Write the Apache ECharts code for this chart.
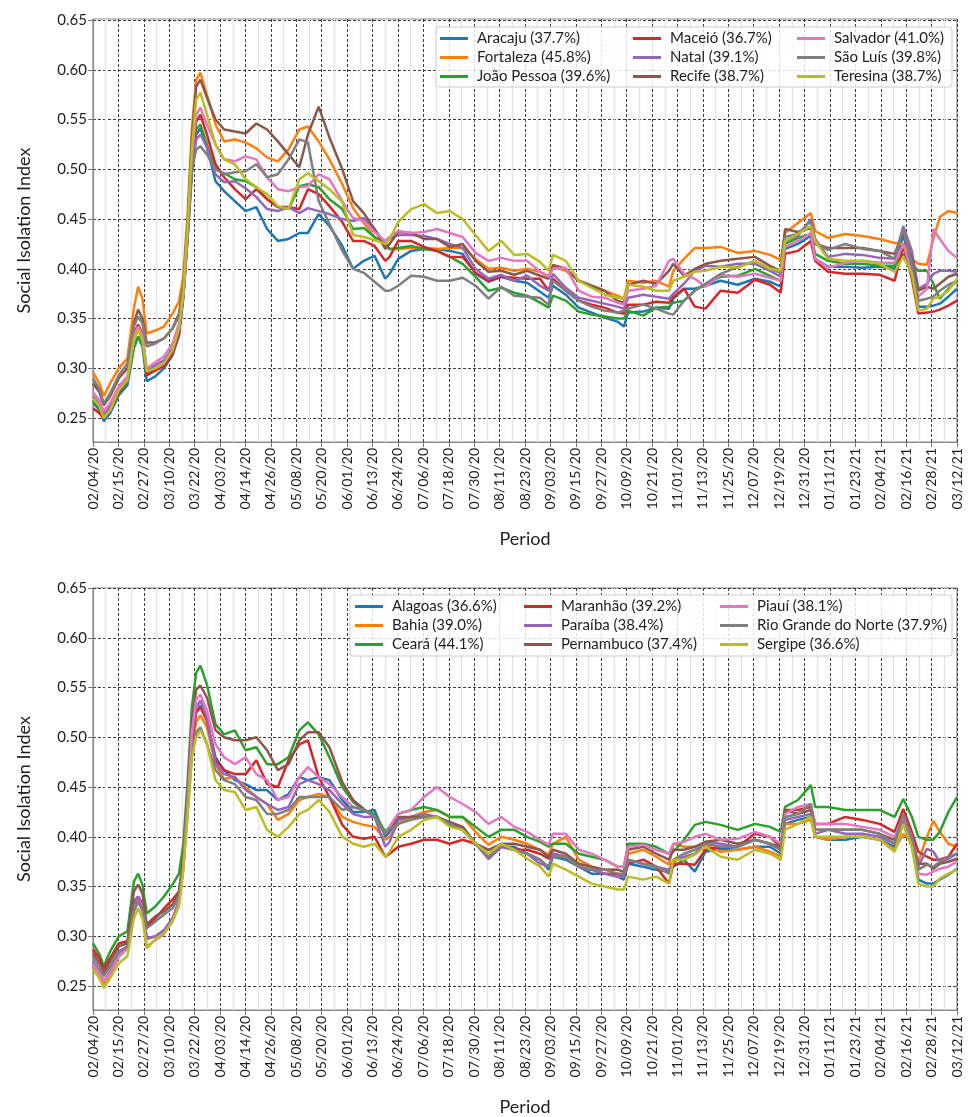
<!DOCTYPE html>
<html>
<head>
<meta charset="utf-8">
<script src="https://cdn.jsdelivr.net/npm/echarts@6/dist/echarts.min.js"></script>
<style>
  html, body { margin: 0; padding: 0; background: #ffffff; }
  #chart { width: 976px; height: 1117px; }
</style>
</head>
<body>
<div id="chart"></div>
<script>
// Day offsets (days since 02/04/2020) at which each series is sampled
const DAYS = [0,3,5,8,12,16,19,21,23,25,29,33,37,40,42,44,46,48,50,53,57,61,66,71,76,81,86,91,96,100,105,110,116,121,126,131,136,138,142,148,154,160,166,172,178,184,190,196,202,208,212,214,220,226,232,238,244,247,249,256,262,268,270,275,280,285,292,300,308,315,320,322,328,334,336,342,350,358,366,373,377,381,384,388,391,394,398,402];

// Date labels placed at evenly spaced ticks along the period
const TICK_LABELS = ['02/04/20','02/15/20','02/27/20','03/10/20','03/22/20','04/03/20','04/14/20','04/26/20','05/08/20','05/20/20','06/01/20','06/13/20','06/24/20','07/06/20','07/18/20','07/30/20','08/11/20','08/23/20','09/03/20','09/15/20','09/27/20','10/09/20','10/21/20','11/01/20','11/13/20','11/25/20','12/07/20','12/19/20','12/31/20','01/11/21','01/23/21','02/04/21','02/16/21','02/28/21','03/12/21'];
const Y_TICKS = [0.25, 0.30, 0.35, 0.40, 0.45, 0.50, 0.55, 0.60, 0.65];

// Capitals (upper panel)
const CAPITALS = ['Aracaju (37.7%)','Fortaleza (45.8%)','João Pessoa (39.6%)','Maceió (36.7%)','Natal (39.1%)','Recife (38.7%)','Salvador (41.0%)','São Luís (39.8%)','Teresina (38.7%)'];
const ARACAJU = [.266,.258,.247,.255,.273,.283,.320,.332,.322,.287,.292,.300,.313,.333,.370,.430,.495,.535,.541,.522,.488,.478,.468,.458,.462,.440,.428,.430,.436,.436,.455,.443,.423,.400,.408,.413,.390,.395,.410,.418,.420,.420,.418,.415,.395,.387,.392,.388,.386,.377,.371,.383,.374,.361,.356,.351,.347,.342,.356,.357,.361,.360,.370,.380,.380,.383,.388,.384,.390,.387,.382,.420,.425,.433,.410,.402,.402,.401,.402,.400,.435,.395,.362,.362,.363,.365,.372,.380];
const FORTALEZA = [.296,.285,.272,.285,.300,.310,.360,.382,.370,.335,.338,.342,.355,.367,.392,.455,.540,.590,.597,.575,.545,.528,.530,.527,.521,.512,.508,.520,.540,.543,.528,.510,.485,.461,.446,.432,.423,.420,.420,.421,.421,.420,.421,.421,.410,.400,.401,.398,.400,.397,.393,.402,.398,.388,.383,.378,.373,.370,.388,.386,.388,.382,.398,.410,.421,.421,.422,.416,.418,.414,.409,.436,.446,.456,.438,.431,.435,.433,.430,.426,.425,.410,.405,.404,.430,.452,.458,.456];
const JOAO_PESSOA = [.268,.260,.250,.258,.275,.286,.322,.332,.325,.295,.298,.303,.317,.338,.374,.435,.505,.540,.545,.525,.500,.496,.490,.488,.482,.470,.462,.460,.483,.485,.482,.470,.460,.440,.441,.432,.425,.420,.421,.423,.420,.418,.412,.405,.392,.378,.381,.376,.373,.366,.361,.373,.368,.357,.354,.352,.350,.350,.358,.353,.361,.362,.366,.368,.378,.385,.392,.393,.400,.393,.388,.425,.431,.435,.415,.408,.405,.405,.403,.403,.415,.405,.398,.398,.385,.370,.380,.388];
const MACEIO = [.260,.255,.250,.258,.276,.288,.335,.344,.335,.293,.298,.302,.315,.335,.372,.434,.505,.548,.555,.535,.505,.492,.480,.470,.480,.470,.462,.462,.460,.480,.475,.463,.447,.428,.428,.423,.408,.412,.428,.428,.422,.418,.412,.412,.396,.388,.392,.391,.390,.390,.378,.390,.378,.368,.364,.361,.356,.355,.364,.364,.367,.366,.372,.380,.362,.360,.378,.376,.389,.384,.376,.415,.418,.428,.408,.397,.395,.395,.394,.388,.423,.390,.355,.356,.357,.359,.363,.368];
const NATAL = [.272,.264,.254,.262,.280,.290,.330,.340,.330,.298,.303,.308,.320,.340,.372,.430,.500,.530,.535,.522,.495,.487,.488,.481,.472,.460,.458,.462,.456,.461,.458,.455,.450,.448,.451,.440,.425,.430,.434,.434,.433,.430,.425,.421,.400,.390,.394,.388,.393,.383,.378,.395,.381,.371,.368,.365,.362,.360,.371,.374,.372,.370,.375,.385,.398,.403,.402,.405,.405,.398,.392,.428,.433,.450,.430,.412,.415,.414,.411,.410,.443,.418,.380,.385,.395,.398,.398,.397];
const RECIFE = [.285,.276,.263,.272,.290,.300,.345,.359,.350,.326,.326,.330,.340,.355,.383,.445,.530,.583,.590,.572,.550,.540,.538,.536,.546,.540,.528,.515,.502,.535,.563,.532,.500,.468,.456,.440,.420,.425,.437,.436,.430,.430,.422,.425,.408,.397,.398,.394,.398,.393,.390,.404,.400,.388,.383,.378,.368,.366,.384,.388,.385,.398,.405,.393,.400,.405,.408,.410,.412,.403,.398,.440,.437,.441,.425,.421,.421,.421,.418,.415,.437,.410,.378,.382,.380,.385,.392,.395];
const SALVADOR = [.276,.268,.257,.265,.282,.292,.333,.342,.333,.300,.306,.312,.325,.345,.375,.437,.515,.555,.562,.545,.525,.510,.508,.513,.510,.492,.480,.478,.482,.483,.495,.490,.468,.451,.448,.437,.428,.432,.438,.436,.437,.440,.436,.432,.416,.408,.411,.408,.408,.397,.392,.400,.401,.378,.372,.371,.366,.364,.378,.380,.383,.408,.410,.395,.390,.382,.394,.392,.395,.391,.388,.422,.428,.436,.410,.401,.406,.408,.406,.406,.425,.395,.372,.380,.440,.430,.418,.411];
const SAO_LUIS = [.290,.279,.265,.275,.293,.305,.342,.352,.345,.322,.325,.330,.340,.352,.380,.438,.500,.520,.523,.515,.500,.495,.497,.498,.505,.492,.495,.510,.530,.527,.468,.445,.418,.400,.396,.387,.378,.378,.383,.393,.392,.388,.388,.391,.383,.370,.382,.373,.372,.371,.364,.388,.378,.368,.362,.358,.356,.358,.360,.364,.360,.355,.354,.368,.378,.385,.395,.402,.408,.400,.396,.432,.435,.448,.425,.419,.425,.420,.418,.410,.440,.405,.368,.370,.372,.378,.384,.388];
const TERESINA = [.270,.262,.250,.258,.278,.288,.328,.339,.328,.297,.300,.305,.318,.340,.376,.440,.520,.570,.577,.555,.525,.510,.505,.490,.482,.475,.463,.460,.490,.496,.488,.480,.467,.434,.432,.429,.425,.430,.447,.460,.465,.456,.458,.450,.434,.418,.428,.414,.415,.407,.398,.414,.408,.388,.381,.374,.371,.370,.384,.382,.378,.378,.388,.392,.397,.398,.402,.401,.408,.400,.398,.428,.435,.443,.428,.410,.408,.408,.405,.397,.412,.395,.358,.360,.370,.372,.378,.390];

// States (lower panel)
const STATES = ['Alagoas (36.6%)','Bahia (39.0%)','Ceará (44.1%)','Maranhão (39.2%)','Paraíba (38.4%)','Pernambuco (37.4%)','Piauí (38.1%)','Rio Grande do Norte (37.9%)','Sergipe (36.6%)'];
const ALAGOAS = [.272,.263,.253,.262,.280,.288,.330,.340,.330,.298,.300,.305,.318,.335,.370,.428,.495,.525,.532,.517,.480,.467,.457,.453,.447,.447,.437,.443,.460,.457,.460,.457,.437,.425,.425,.427,.400,.405,.417,.420,.420,.420,.413,.407,.393,.387,.390,.390,.383,.377,.367,.380,.377,.370,.363,.363,.360,.357,.373,.370,.367,.365,.370,.377,.365,.385,.388,.387,.390,.390,.383,.413,.417,.420,.400,.397,.397,.400,.397,.390,.413,.390,.357,.353,.353,.357,.362,.368];
const BAHIA = [.270,.262,.252,.262,.280,.288,.330,.338,.330,.297,.300,.306,.318,.335,.368,.425,.490,.515,.522,.510,.473,.458,.460,.450,.440,.433,.417,.423,.437,.440,.443,.440,.420,.415,.412,.410,.397,.400,.413,.420,.425,.427,.420,.420,.405,.392,.400,.397,.393,.387,.382,.393,.400,.377,.370,.367,.367,.365,.383,.387,.380,.372,.393,.390,.390,.392,.385,.387,.390,.385,.380,.413,.413,.417,.400,.397,.400,.400,.397,.387,.403,.395,.375,.400,.416,.405,.393,.390];
const CEARA = [.293,.282,.270,.285,.300,.305,.355,.363,.352,.323,.330,.340,.352,.363,.392,.455,.530,.565,.572,.553,.513,.503,.507,.487,.490,.473,.473,.480,.507,.515,.503,.480,.450,.435,.427,.423,.405,.410,.423,.427,.430,.427,.420,.420,.410,.400,.407,.407,.400,.395,.390,.393,.393,.383,.380,.377,.370,.370,.393,.393,.390,.383,.385,.397,.412,.415,.412,.407,.413,.410,.405,.430,.437,.452,.430,.430,.427,.427,.427,.420,.438,.420,.400,.397,.397,.405,.425,.440];
const MARANHAO = [.287,.278,.267,.278,.293,.295,.335,.340,.333,.310,.318,.328,.337,.345,.375,.430,.495,.525,.530,.517,.477,.467,.463,.463,.477,.453,.450,.477,.493,.497,.460,.440,.412,.400,.398,.400,.380,.383,.390,.393,.397,.397,.393,.397,.393,.378,.390,.387,.387,.383,.378,.383,.380,.370,.367,.363,.363,.360,.373,.377,.370,.353,.373,.373,.372,.387,.390,.390,.403,.400,.390,.427,.427,.430,.413,.413,.420,.417,.413,.405,.428,.405,.385,.380,.377,.377,.380,.393];
const PARAIBA = [.275,.265,.255,.265,.282,.290,.332,.340,.332,.298,.300,.306,.318,.335,.370,.430,.500,.530,.537,.520,.473,.463,.460,.447,.440,.433,.427,.430,.453,.457,.453,.447,.433,.423,.420,.420,.390,.395,.417,.420,.423,.420,.413,.410,.393,.378,.390,.387,.383,.373,.370,.383,.380,.370,.367,.363,.360,.360,.377,.373,.370,.367,.375,.380,.383,.395,.393,.390,.397,.393,.387,.417,.420,.423,.403,.407,.403,.403,.400,.393,.417,.395,.370,.388,.385,.375,.378,.383];
const PERNAMBUCO = [.283,.273,.263,.275,.290,.293,.345,.352,.343,.312,.320,.325,.332,.345,.380,.440,.515,.548,.552,.540,.507,.500,.497,.497,.500,.487,.467,.473,.497,.505,.505,.490,.455,.437,.428,.420,.403,.408,.420,.420,.420,.420,.415,.410,.393,.387,.393,.393,.390,.387,.380,.387,.383,.373,.370,.367,.367,.365,.387,.390,.383,.377,.387,.387,.390,.395,.397,.393,.397,.393,.390,.427,.423,.427,.407,.407,.407,.407,.403,.397,.420,.400,.373,.373,.368,.373,.375,.378];
const PIAUI = [.272,.263,.255,.263,.280,.288,.325,.335,.325,.290,.296,.302,.315,.333,.372,.435,.505,.538,.543,.527,.493,.480,.473,.480,.463,.457,.437,.440,.460,.470,.460,.453,.440,.430,.427,.420,.403,.410,.423,.427,.440,.450,.440,.433,.425,.413,.420,.410,.405,.397,.392,.403,.403,.387,.383,.377,.370,.370,.390,.392,.387,.383,.393,.395,.400,.403,.397,.398,.405,.400,.393,.423,.430,.433,.413,.413,.413,.410,.407,.400,.420,.400,.363,.362,.365,.368,.370,.375];
const RIO_GRANDE_DO_NORTE = [.280,.270,.260,.270,.285,.290,.325,.335,.327,.308,.315,.322,.328,.340,.372,.425,.480,.505,.510,.493,.467,.457,.453,.440,.437,.423,.423,.427,.440,.440,.440,.440,.427,.430,.427,.420,.403,.408,.413,.417,.420,.420,.413,.407,.393,.380,.393,.387,.383,.377,.370,.380,.380,.370,.367,.367,.363,.363,.377,.373,.370,.363,.377,.383,.387,.393,.390,.390,.397,.393,.387,.420,.423,.433,.407,.407,.407,.407,.403,.393,.423,.400,.367,.372,.370,.375,.380,.383];
const SERGIPE = [.267,.258,.248,.258,.273,.280,.318,.328,.318,.288,.297,.303,.315,.330,.365,.420,.480,.500,.507,.493,.457,.447,.445,.427,.430,.407,.400,.410,.423,.427,.437,.425,.400,.393,.390,.393,.380,.385,.400,.407,.417,.420,.410,.407,.393,.383,.393,.387,.378,.370,.360,.373,.367,.360,.353,.350,.347,.347,.360,.357,.360,.353,.377,.377,.382,.390,.380,.377,.387,.383,.377,.407,.413,.420,.400,.400,.400,.400,.397,.385,.413,.390,.353,.350,.350,.358,.363,.367];

const CAPITAL_VALUES = [ARACAJU, FORTALEZA, JOAO_PESSOA, MACEIO, NATAL, RECIFE, SALVADOR, SAO_LUIS, TERESINA];
const STATE_VALUES = [ALAGOAS, BAHIA, CEARA, MARANHAO, PARAIBA, PERNAMBUCO, PIAUI, RIO_GRANDE_DO_NORTE, SERGIPE];

// matplotlib "tab10" palette
const COLORS = ['#1f77b4','#ff7f0e','#2ca02c','#d62728','#9467bd','#8c564b','#e377c2','#7f7f7f','#bcbd22'];

const LAST_DAY = DAYS[DAYS.length - 1];
const X_STEP = LAST_DAY / (TICK_LABELS.length - 1);
const SANS = 'Lato, "Open Sans", sans-serif';
const TEXT = '#1e1e1e';

function xAxis(gridIndex) {
  return {
    type: 'value', gridIndex: gridIndex,
    min: 0, max: LAST_DAY, interval: X_STEP,
    name: 'Period', nameLocation: 'middle', nameGap: 88,
    nameTextStyle: { fontFamily: SANS, fontSize: 18, color: TEXT },
    axisLine: { show: true, lineStyle: { color: '#8a8a8a', width: 1.2 } },
    axisTick: { show: true, length: 5, lineStyle: { color: '#777', width: 1 } },
    axisLabel: {
      rotate: 90, margin: 6, fontFamily: SANS, fontSize: 14, color: TEXT,
      formatter: function (v) { const k = Math.round(v / X_STEP); return TICK_LABELS[k] || ''; }
    },
    splitLine: { show: true, lineStyle: { color: '#3c3c3c', width: 1, type: [3, 2] } },
    minorTick: { show: false, splitNumber: 2 },
    minorSplitLine: { show: true, lineStyle: { color: '#e3e3ef', width: 1.3 } }
  };
}

function yAxis(gridIndex, maxVal) {
  return {
    type: 'value', gridIndex: gridIndex,
    min: 0.226, max: maxVal,
    name: 'Social Isolation Index', nameLocation: 'middle', nameGap: 60,
    nameTextStyle: { fontFamily: SANS, fontSize: 18, color: TEXT },
    axisLine: { show: true, lineStyle: { color: '#8a8a8a', width: 1.2 } },
    axisTick: { show: true, length: 5, customValues: Y_TICKS, lineStyle: { color: '#777', width: 1 } },
    axisLabel: {
      customValues: Y_TICKS, margin: 6, fontFamily: SANS, fontSize: 15, color: TEXT,
      formatter: function (v) { return v.toFixed(2); }
    },
    splitLine: { show: true, lineStyle: { color: '#3c3c3c', width: 1, type: [3, 2] } }
  };
}

function buildSeries(names, values, idx) {
  return names.map(function (name, i) {
    return {
      name: name, type: 'line', xAxisIndex: idx, yAxisIndex: idx,
      showSymbol: false, symbol: 'none', smooth: false,
      lineStyle: { color: COLORS[i], width: 2.5 },
      itemStyle: { color: COLORS[i] },
      emphasis: { disabled: true },
      data: DAYS.map(function (d, j) { return [d, values[i][j]]; })
    };
  });
}

// One legend column; the default 5px legend padding is cancelled so the
// icon starts exactly at `left`
function legendColumn(names, left, top) {
  return {
    data: names, orient: 'vertical', left: left, top: top, z: 20, padding: 0,
    icon: 'rect', itemWidth: 28, itemHeight: 3, itemGap: 0,
    selectedMode: false,
    textStyle: { fontFamily: SANS, fontSize: 15, color: TEXT, lineHeight: 19, padding: [0, 0, 0, 4] }
  };
}

const chart = echarts.init(document.getElementById('chart'), null, { renderer: 'canvas' });
chart.setOption({
  animation: false,
  backgroundColor: '#ffffff',
  grid: [
    { left: 93, right: 19, top: 19, height: 423, show: true, borderColor: '#8a8a8a', borderWidth: 1.2 },
    { left: 93, right: 19, top: 588, height: 424, show: true, borderColor: '#8a8a8a', borderWidth: 1.2 }
  ],
  xAxis: [xAxis(0), xAxis(1)],
  yAxis: [yAxis(0, 0.651), yAxis(1, 0.65)],
  graphic: [
    { type: 'rect', shape: { x: 436, y: 27, width: 516, height: 60, r: 3 }, z: 10,
      style: { fill: 'rgba(255,255,255,0.82)', stroke: '#cccccc', lineWidth: 1 } },
    { type: 'rect', shape: { x: 350, y: 595, width: 602, height: 61, r: 3 }, z: 10,
      style: { fill: 'rgba(255,255,255,0.82)', stroke: '#cccccc', lineWidth: 1 } }
  ],
  legend: [
    legendColumn(CAPITALS.slice(0, 3), 440, 29),
    legendColumn(CAPITALS.slice(3, 6), 633, 29),
    legendColumn(CAPITALS.slice(6, 9), 797, 29),
    legendColumn(STATES.slice(0, 3), 355, 597),
    legendColumn(STATES.slice(3, 6), 524, 597),
    legendColumn(STATES.slice(6, 9), 720, 597)
  ],
  series: buildSeries(CAPITALS, CAPITAL_VALUES, 0).concat(buildSeries(STATES, STATE_VALUES, 1))
});
</script>
</body>
</html>
